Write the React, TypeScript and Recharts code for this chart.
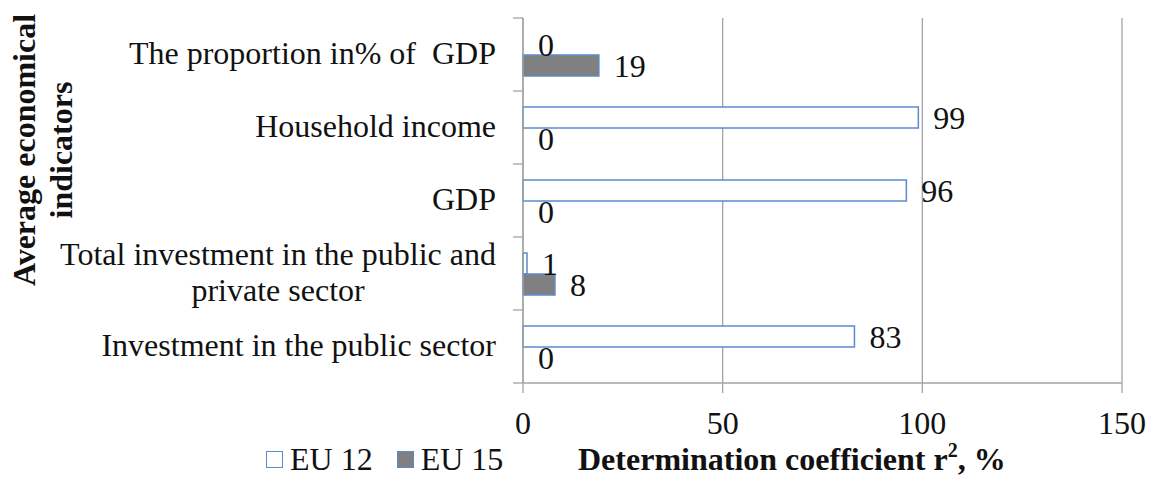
import React from 'react';
import { BarChart, Bar, XAxis, YAxis, CartesianGrid, LabelList, Legend, Rectangle } from 'recharts';

// ---- data ----
const categories = [
  'The proportion in% of  GDP',
  'Household income',
  'GDP',
  'Total investment in the public and\nprivate sector',
  'Investment in the public sector',
];
const eu12Values = [0, 99, 96, 1, 83];
const eu15Values = [19, 0, 0, 8, 0];
const xTicks = [0, 50, 100, 150];
const seriesNames = ['EU 12', 'EU 15'];
const xTitle = 'Determination coefficient r';
const xTitleSup = '2';
const xTitleTail = ', %';
const yTitleLines = ['Average economical', 'indicators'];

const data = categories.map((c, i) => ({ category: c, eu12: eu12Values[i], eu15: eu15Values[i] }));

// ---- style ----
const FONT = '"Liberation Serif", "Times New Roman", serif';
const FS = 32;
const BLUE = '#5b8bc9';
const GRAY_BAR = '#808080';
const AXIS = '#a3a3a3';
const TEXT = '#111';
const Y_TICK_SIZE = 10;
const Y_TICK_MARGIN = 17;
const LABEL_OFFSET = 15;

let ctx: CanvasRenderingContext2D | null = null;
function measure(s: string): number {
  if (!ctx) {
    const c = document.createElement('canvas');
    ctx = c.getContext('2d');
  }
  if (!ctx) return s.length * FS * 0.45;
  ctx.font = `${FS}px "Liberation Serif"`;
  return ctx.measureText(s).width;
}

function CategoryTick(props: any) {
  const { x, y, payload, index } = props;
  const half = payload && typeof payload.offset === 'number' ? payload.offset : 0;
  const lines = String(payload.value).split('\n');
  const lineH = 36;
  const tx0 = x + Y_TICK_MARGIN;
  const tx1 = tx0 + Y_TICK_SIZE;
  const n = lines.length;
  let label;
  if (n === 1) {
    label = (
      <text x={x} y={y} dy="0.3em" textAnchor="end" fill={TEXT} fontSize={FS} style={{ whiteSpace: 'pre', fontFamily: FONT }}>
        {lines[0]}
      </text>
    );
  } else {
    const w = Math.max(...lines.map(measure));
    const cx = x - w / 2;
    label = (
      <text textAnchor="middle" fill={TEXT} fontSize={FS} style={{ whiteSpace: 'pre', fontFamily: FONT }}>
        {lines.map((l, i) => (
          <tspan key={i} x={cx} y={y + (i - (n - 1) / 2) * lineH} dy="0.3em">
            {l}
          </tspan>
        ))}
      </text>
    );
  }
  return (
    <g>
      <line x1={tx0} x2={tx1} y1={y - half} y2={y - half} stroke={AXIS} strokeWidth={1.3} />
      {index === categories.length - 1 && (
        <line x1={tx0} x2={tx1} y1={y + half} y2={y + half} stroke={AXIS} strokeWidth={1.3} />
      )}
      {label}
    </g>
  );
}

function XTick(props: any) {
  const { x, y, payload } = props;
  return (
    <text x={x} y={y} dy="0.71em" textAnchor="middle" fill={TEXT} fontSize={FS} style={{ fontFamily: FONT }}>
      {payload.value}
    </text>
  );
}

function ValueLabel(props: any) {
  const { x, y, width, height, value } = props;
  if (value === undefined || value === null) return null;
  const w = Number(width) || 0;
  const bx = Number(x) + (w > 0.5 ? w : 0) + LABEL_OFFSET;
  const by = Number(y) + (Number(height) || 0) / 2;
  return (
    <text x={bx} y={by} dy="0.355em" textAnchor="start" fill={TEXT} fontSize={FS} style={{ fontFamily: FONT }}>
      {value}
    </text>
  );
}

// draws nothing for zero-valued bars (kept as tiny placeholders so their labels exist)
function BarShape(props: any) {
  const { width } = props;
  if (!(Number(width) > 0.5)) return <g />;
  return <Rectangle {...props} />;
}

const zeroKeeper = (value: any) => (Number(value) === 0 ? 0.01 : 0);

function LegendContent() {
  const fills = ['#ffffff', GRAY_BAR];
  return (
    <div style={{ display: 'flex', alignItems: 'center', fontFamily: FONT, fontSize: FS, color: TEXT, lineHeight: 'normal', whiteSpace: 'nowrap' }}>
      {seriesNames.map((name, i) => (
        <div key={name} style={{ display: 'flex', alignItems: 'center', marginRight: i === 0 ? 24 : 0 }}>
          <span
            style={{
              display: 'inline-block',
              width: 15,
              height: 15,
              background: fills[i],
              border: `1.5px solid ${BLUE}`,
              marginRight: 7,
            }}
          />
          <span>{name}</span>
        </div>
      ))}
    </div>
  );
}

function XTitle(props: any) {
  const vb = props.viewBox || { x: 523, y: 383 };
  return (
    <text x={vb.x + 55} y={vb.y + 87} fill={TEXT} fontSize={FS} fontWeight="bold" style={{ fontFamily: FONT }}>
      {xTitle}
      <tspan fontSize={20} dy={-13}>{xTitleSup}</tspan>
      <tspan dy={13}>{xTitleTail}</tspan>
    </text>
  );
}

function YTitle() {
  const cy = 150;
  const baselines = [35, 72];
  return (
    <g>
      {yTitleLines.map((l, i) => (
        <text
          key={i}
          x={baselines[i]}
          y={cy}
          transform={`rotate(-90 ${baselines[i]} ${cy})`}
          textAnchor="middle"
          fill={TEXT}
          fontSize={FS}
          fontWeight="bold"
          style={{ fontFamily: FONT }}
        >
          {l}
        </text>
      ))}
    </g>
  );
}

export default function App() {
  return (
    <div style={{ position: 'absolute', left: 0, top: 0, width: 1149, height: 484, background: '#fff', fontFamily: FONT }}>
      <BarChart
        width={1149}
        height={484}
        data={data}
        layout="vertical"
        margin={{ top: 18, right: 27, bottom: 0, left: 0 }}
        barGap={0}
        style={{ fontFamily: FONT }}
      >
        <CartesianGrid horizontal={false} stroke={AXIS} strokeWidth={1.3} />
        <XAxis
          type="number"
          domain={[0, 150]}
          ticks={xTicks}
          height={101}
          stroke={AXIS}
          tickSize={10}
          tickMargin={18}
          tick={<XTick />}
          axisLine={{ stroke: AXIS, strokeWidth: 1.3 }}
          tickLine={{ stroke: AXIS, strokeWidth: 1.3 }}
          label={(p: any) => <XTitle {...p} />}
        />
        <YAxis
          type="category"
          dataKey="category"
          width={523}
          interval={0}
          tickSize={Y_TICK_SIZE}
          tickMargin={Y_TICK_MARGIN}
          tickLine={false}
          axisLine={{ stroke: AXIS, strokeWidth: 1.3 }}
          tick={<CategoryTick />}
          label={() => <YTitle />}
        />
        <Legend
          layout="horizontal"
          verticalAlign="middle"
          align="center"
          content={() => <LegendContent />}
          wrapperStyle={{ left: 266, top: 441, width: 'auto', height: 'auto' }}
        />
        <Bar
          dataKey="eu12"
          name={seriesNames[0]}
          fill="#ffffff"
          stroke={BLUE}
          strokeWidth={1.5}
          barSize={21}
          minPointSize={zeroKeeper}
          shape={(p: any) => <BarShape {...p} />}
          isAnimationActive={false}
        >
          <LabelList dataKey="eu12" content={(p: any) => <ValueLabel {...p} />} />
        </Bar>
        <Bar
          dataKey="eu15"
          name={seriesNames[1]}
          fill={GRAY_BAR}
          stroke={BLUE}
          strokeWidth={1.5}
          barSize={21}
          minPointSize={zeroKeeper}
          shape={(p: any) => <BarShape {...p} />}
          isAnimationActive={false}
        >
          <LabelList dataKey="eu15" content={(p: any) => <ValueLabel {...p} />} />
        </Bar>
      </BarChart>
    </div>
  );
}
